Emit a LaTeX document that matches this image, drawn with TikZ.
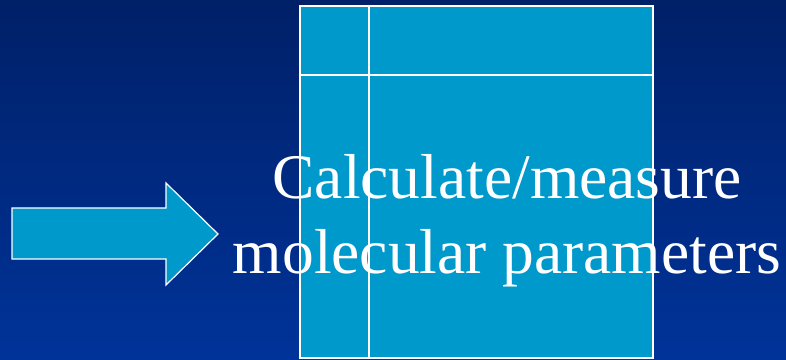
\documentclass[tikz,border=0pt]{standalone}
\usepackage{fontspec}
\setmainfont{Liberation Serif}
\definecolor{navytop}{RGB}{0,32,104}
\definecolor{navybottom}{RGB}{0,51,153}
\definecolor{cellblue}{RGB}{0,153,204}
\begin{document}
\begin{tikzpicture}[x=1pt, y=-1pt]
    % 背景 (深蓝渐变)
    \shade[top color=navytop, bottom color=navybottom] (0,0) rectangle (786,359);
    \useasboundingbox (0,0) rectangle (786,359);

    % 表格 (浅蓝方块 + 白色分隔线)
    \filldraw[fill=cellblue, draw=white, line width=2pt] (300,6) rectangle (653,358);
    \draw[white, line width=1.5pt] (300,75) -- (653,75);
    \draw[white, line width=1.5pt] (369,6) -- (369,358);

    % 左侧箭头
    \filldraw[fill=cellblue, draw=white, line width=1.2pt, line join=miter]
        (12,208) -- (166,208) -- (166,183) -- (218,234) -- (166,285) -- (166,259) -- (12,259) -- cycle;

    % 文字
    \node[text=white, align=center, font=\fontsize{63.5}{75}\selectfont, inner sep=0pt] (label) at (507,221)
        {Calculate/measure\\molecular parameters};
\end{tikzpicture}
\end{document}
